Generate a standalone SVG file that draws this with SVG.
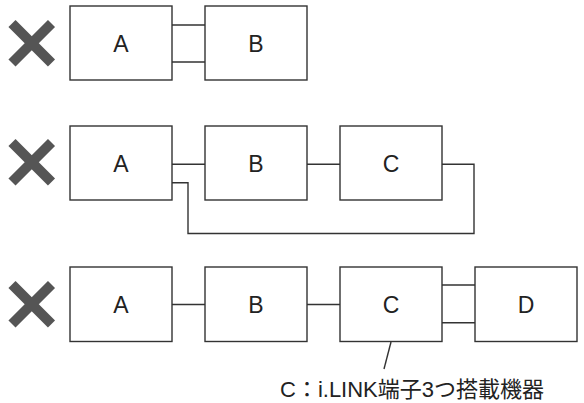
<svg xmlns="http://www.w3.org/2000/svg" width="584" height="403" viewBox="0 0 584 403">
<style>
.box{fill:#fff;stroke:#333;stroke-width:1.4}
.lbl{font-family:"Liberation Sans","Noto Sans CJK JP",sans-serif;font-size:23px;fill:#222;text-anchor:middle}
.cap{font-family:"Liberation Sans","Noto Sans CJK JP",sans-serif;font-size:22px;fill:#222}
.ln{fill:none;stroke:#333;stroke-width:1.4}
.x{stroke:#555;stroke-width:10;stroke-linecap:butt}
</style>
<rect width="584" height="403" fill="#fff"/>
<g id="marks">
<g id="x1"><line class="x" x1="12" y1="23.5" x2="51.5" y2="63"/><line class="x" x1="12" y1="63" x2="51.5" y2="23.5"/></g>
<g id="x2"><line class="x" x1="12" y1="142.5" x2="51.5" y2="182"/><line class="x" x1="12" y1="182" x2="51.5" y2="142.5"/></g>
<g id="x3"><line class="x" x1="12" y1="284.5" x2="51.5" y2="324"/><line class="x" x1="12" y1="324" x2="51.5" y2="284.5"/></g>
</g>
<g id="connectors">
<path class="ln" d="M172 25H205M172 62H205"/>
<path class="ln" d="M172 164.3H205M307 164.3H340M442 164.3H474V233.5H188V182.7H172"/>
<path class="ln" d="M172 304.5H205M307 304.5H340M442 285H475M442 322.7H475"/>
<path class="ln" d="M391 342L384 369"/>
</g>
<g id="r1a"><rect class="box" x="70" y="6" width="102" height="74"/><text class="lbl" x="121" y="51.5">A</text></g>
<g id="r1b"><rect class="box" x="205" y="6" width="102" height="74"/><text class="lbl" x="256" y="51.5">B</text></g>
<g id="r2a"><rect class="box" x="70" y="126" width="102" height="74"/><text class="lbl" x="121" y="171.5">A</text></g>
<g id="r2b"><rect class="box" x="205" y="126" width="102" height="74"/><text class="lbl" x="256" y="171.5">B</text></g>
<g id="r2c"><rect class="box" x="340" y="126" width="102" height="74"/><text class="lbl" x="391" y="171.5">C</text></g>
<g id="r3a"><rect class="box" x="70" y="267" width="102" height="74.5"/><text class="lbl" x="121" y="312.5">A</text></g>
<g id="r3b"><rect class="box" x="205" y="267" width="102" height="74.5"/><text class="lbl" x="256" y="312.5">B</text></g>
<g id="r3c"><rect class="box" x="340" y="267" width="102" height="74.5"/><text class="lbl" x="391" y="312.5">C</text></g>
<g id="r3d"><rect class="box" x="475" y="267" width="102" height="74.5"/><text class="lbl" x="526" y="312.5">D</text></g>
<g id="caption"><text class="cap" x="280" y="396.5">C：i.LINK端子3つ搭載機器</text></g>
</svg>
